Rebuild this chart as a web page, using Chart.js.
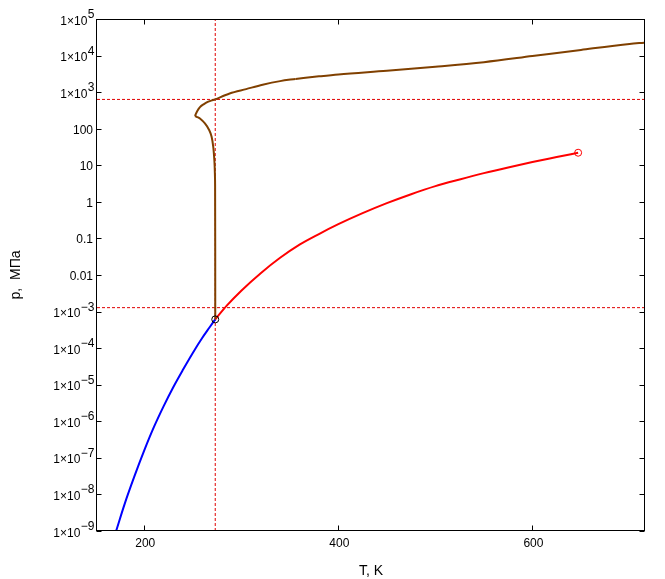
<!DOCTYPE html>
<html>
<head>
<meta charset="utf-8">
<script src="https://cdn.jsdelivr.net/npm/chart.js@4.4.0/dist/chart.umd.min.js"></script>
<style>
  body { margin: 0; background: #fff; }
  #wrap { width: 665px; height: 579px; }
</style>
</head>
<body>
<div id="wrap"><canvas id="phaseChart"></canvas></div>
<script>
// кривая сублимации (лёд - пар), T в K, p в МПа
const sublT = [171, 180, 190, 200, 210, 220, 230, 240, 250, 260, 267, 273.16];
const sublP = [1.0e-9, 5.7e-9, 3.2e-8, 1.6e-7, 7.0e-7, 2.6e-6, 8.7e-6, 2.6e-5, 7.4e-5, 1.95e-4, 3.6e-4, 6.12e-4];

// кривая испарения (жидкость - пар)
const vapT = [273.16, 285, 300, 320, 340, 360, 380, 400, 425, 450, 475, 500, 525, 550, 575, 600, 625, 647.1];
const vapP = [6.12e-4, 1.45e-3, 3.72e-3, 1.12e-2, 2.95e-2, 6.76e-2, 0.132, 0.245, 0.49, 0.92, 1.62, 2.69, 4.1, 6.1, 8.75, 12.3, 16.8, 22.06];

// кривая плавления, по участкам
const meltIhT = [273.16, 273.0, 272.5, 272.0, 271.1, 269.4, 267.0, 262.5, 257.4, 254.0, 252.2];
const meltIhP = [6.12e-4, 3, 10, 17, 32, 60, 91, 139, 190, 212, 222];
const meltVT = [252.2, 254.5, 257.4, 261.5, 266.0, 270.0, 273.2];
const meltVP = [222, 300, 390, 470, 550, 600, 632];
const meltVIT = [273.2, 288, 305, 322, 340, 356];
const meltVIP = [632, 920, 1210, 1590, 2000, 2300];
const meltVIIT = [356, 380, 400, 450, 500, 550, 600, 650, 700, 715];
const meltVIIP = [2300, 2700, 3050, 3850, 4950, 6600, 9700, 14300, 20700, 22500];

// тройная и критическая точки
const tripleT = [273.16], tripleP = [6.12e-4];
const critT = [647.1], critP = [22.06];

// вспомогательные пунктирные линии
const guideT = [273.15];
const guideP = [632, 0.00128];

// деления осей
const xTicks = [200, 400, 600];
const yTickExp = [-9, -8, -7, -6, -5, -4, -3, -2, -1, 0, 1, 2, 3, 4, 5];

const xMin = 151.3, xMax = 716;
const yMin = 1e-9, yMax = 1e5;

const pts = (xs, ys) => xs.map((v, i) => ({x: v, y: ys[i]}));
const FONT = '"Liberation Sans", Arial, sans-serif';
const brown = '#804000';

// smooth: true -> монотонная интерполяция, иначе обычное натяжение
function curve(xs, ys, color, smooth) {
    const ds = {data: pts(xs, ys), showLine: true, borderColor: color, borderWidth: 2,
                pointRadius: 0, fill: false};
    if (smooth) ds.cubicInterpolationMode = 'monotone';
    else ds.tension = 0.3;
    return ds;
}
function guide(data) {
    return {data: data, showLine: true, borderColor: '#e00000', borderWidth: 1,
            borderDash: [3, 2], pointRadius: 0, fill: false};
}

const datasets = [
    {data: pts(tripleT, tripleP), pointRadius: 3.5, pointBorderColor: '#000',
     pointBackgroundColor: 'rgba(0,0,0,0)', pointBorderWidth: 1},
    {data: pts(critT, critP), pointRadius: 3.5, pointBorderColor: '#ff0000',
     pointBackgroundColor: 'rgba(0,0,0,0)', pointBorderWidth: 1},
    curve(meltIhT, meltIhP, brown, false),
    curve(meltVT, meltVP, brown, true),
    curve(meltVIT, meltVIP, brown, true),
    curve(meltVIIT, meltVIIP, brown, true),
    curve(vapT, vapP, '#ff0000', true),
    curve(sublT, sublP, '#0000ff', true),
    guide([{x: guideT[0], y: yMin}, {x: guideT[0], y: yMax}]),
    guide([{x: xMin, y: guideP[0]}, {x: xMax, y: guideP[0]}]),
    guide([{x: xMin, y: guideP[1]}, {x: xMax, y: guideP[1]}])
];

// рамка, деления внутрь и подписи в стиле MATLAB
const frame = {
    id: 'frame',
    afterDraw(chart) {
        const {ctx, chartArea: a, scales: {x, y}} = chart;
        const L = a.left - 0.5, R = a.right - 0.5, T = a.top + 0.5, B = a.bottom - 0.5;
        ctx.save();
        ctx.strokeStyle = '#000';
        ctx.lineWidth = 1;
        ctx.strokeRect(L, T, R - L, B - T);
        ctx.beginPath();
        xTicks.forEach(v => {
            const px = Math.round(x.getPixelForValue(v)) + 0.5;
            ctx.moveTo(px, B); ctx.lineTo(px, B - 5);
            ctx.moveTo(px, T); ctx.lineTo(px, T + 5);
        });
        yTickExp.forEach(e => {
            const py = Math.round(y.getPixelForValue(Math.pow(10, e))) + 0.5;
            ctx.moveTo(L, py); ctx.lineTo(L + 5, py);
            ctx.moveTo(R, py); ctx.lineTo(R - 5, py);
        });
        ctx.stroke();

        ctx.fillStyle = '#000';
        ctx.font = '12px ' + FONT;
        ctx.textBaseline = 'alphabetic';
        ctx.textAlign = 'center';
        xTicks.forEach(v => {
            ctx.fillText(String(v), x.getPixelForValue(v) + 1, 547);
        });

        ctx.textAlign = 'right';
        yTickExp.forEach(e => {
            const py = y.getPixelForValue(Math.pow(10, e));
            if (e >= -2 && e <= 2) {
                const txt = e < 0 ? (e === -1 ? '0.1' : '0.01') : String(Math.pow(10, e));
                ctx.fillText(txt, 93, py + 5);
            } else {
                const ex = e < 0 ? '\u2212' + (-e) : String(e);
                const w = ctx.measureText(ex).width;
                ctx.fillText(ex, 94.5, py - 1);
                ctx.fillText('1\u00d710', 94.5 - w - 0.5, py + 5.5);
            }
        });

        ctx.font = '14px ' + FONT;
        ctx.textAlign = 'center';
        ctx.fillText('T, K', (a.left + a.right) / 2, 575);
        ctx.translate(20, (a.top + a.bottom) / 2);
        ctx.rotate(-Math.PI / 2);
        ctx.fillText('р,  МПа', 0, 0);
        ctx.restore();
    }
};

const ctx = document.getElementById('phaseChart').getContext('2d');
const phaseChart = new Chart(ctx, {
    type: 'scatter',
    data: {datasets: datasets},
    options: {
        responsive: true,
        maintainAspectRatio: false,
        animation: false,
        events: [],
        layout: {padding: {top: 19, right: 20, left: 0, bottom: 0}},
        plugins: {legend: {display: false}, tooltip: {enabled: false}},
        scales: {
            x: {
                type: 'linear', min: xMin, max: xMax,
                ticks: {display: false}, grid: {display: false}, border: {display: false},
                afterFit: s => { s.height = 48; }
            },
            y: {
                type: 'logarithmic', min: yMin, max: yMax,
                ticks: {display: false}, grid: {display: false}, border: {display: false},
                afterFit: s => { s.width = 97; }
            }
        }
    },
    plugins: [frame]
});
</script>
</body>
</html>
